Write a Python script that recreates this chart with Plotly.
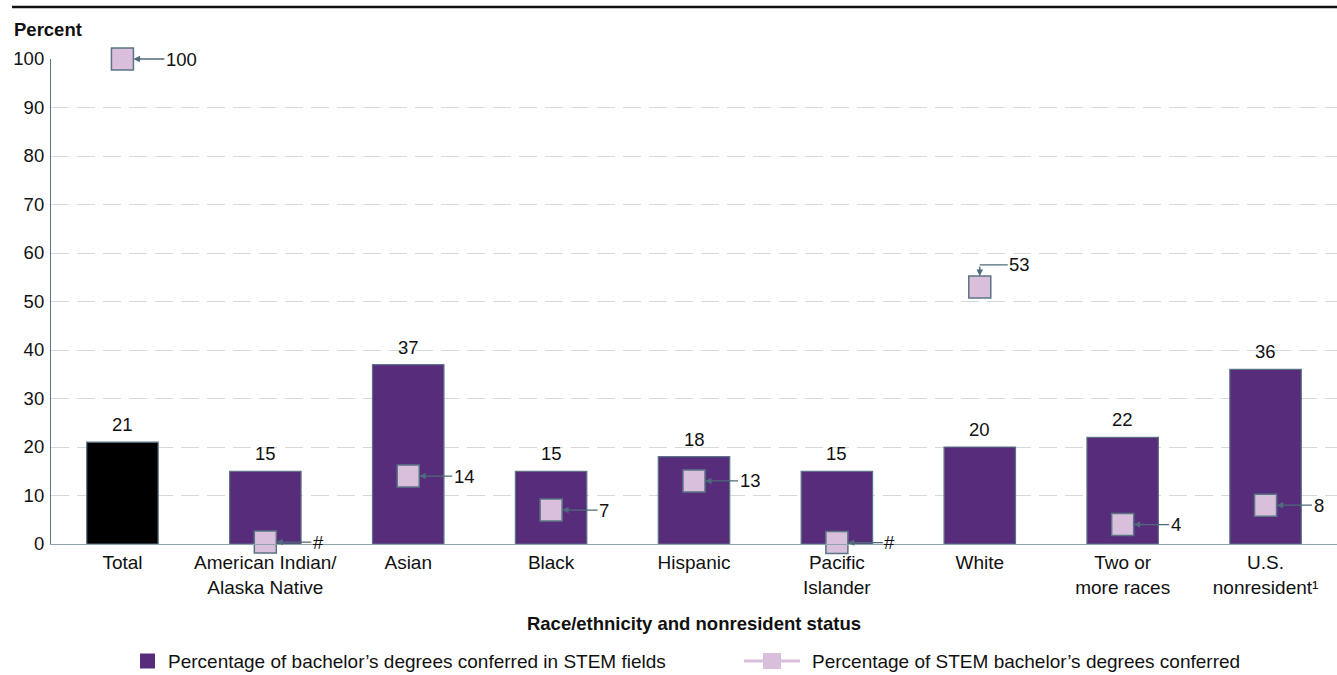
import plotly.graph_objects as go

# Categories along the x axis
categories = [
    "Total",
    "American Indian/<br>Alaska Native",
    "Asian",
    "Black",
    "Hispanic",
    "Pacific<br>Islander",
    "White",
    "Two or<br>more races",
    "U.S.<br>nonresident¹",
]

# Percentage of bachelor's degrees conferred in STEM fields (bars)
stem_pct = [21, 15, 37, 15, 18, 15, 20, 22, 36]

# Percentage of STEM bachelor's degrees conferred (squares)
stem_dist = [100, 0.4, 14, 7, 13, 0.3, 53, 4, 8]
stem_dist_labels = ["100", "#", "14", "7", "13", "#", "53", "4", "8"]

legend_names = [
    "Percentage of bachelor’s degrees conferred in STEM fields",
    "Percentage of STEM bachelor’s degrees conferred",
]

PURPLE = "#572c7b"
LILAC = "#d9bfdc"
SLATE = "#5b7486"
ARROW = "#4f6a7a"
GRID = "#d3d9dc"
INK = "#111111"
FONT = "Liberation Sans, Arial, sans-serif"
FS = 18.5

# figure geometry (pixels) used to place paper-referenced decorations
W, H = 1337, 675
ML, MR, MT, MB = 51, 0, 59, 131
PW, PH = W - ML - MR, H - MT - MB


def px_x(p):
    return (p - ML) / PW


def px_y(p):
    return (H - MB - p) / PH


x = list(range(len(categories)))
bar_colors = ["#000000"] + [PURPLE] * (len(categories) - 1)

fig = go.Figure()

fig.add_trace(go.Bar(
    x=x, y=stem_pct, width=0.5,
    marker=dict(color=bar_colors, line=dict(color=SLATE, width=1.2)),
    name=legend_names[0], hoverinfo="skip", showlegend=False,
))

fig.add_trace(go.Scatter(
    x=x, y=stem_dist, mode="markers",
    marker=dict(symbol="square", size=22, color=LILAC,
                line=dict(color=SLATE, width=1.5)),
    name=legend_names[1], cliponaxis=False, showlegend=False,
    hoverinfo="skip",
))

annotations = []

# value labels above bars
for xi, v in zip(x, stem_pct):
    annotations.append(dict(
        x=xi, y=v, text=str(v), showarrow=False, yanchor="bottom",
        yshift=5, font=dict(size=FS, color=INK, family=FONT),
    ))

# leader arrows pointing at the squares
for xi, v, lab in zip(x, stem_dist, stem_dist_labels):
    if lab == "53":
        # elbow: short horizontal leader then an arrow down into the square
        annotations.append(dict(
            x=xi, y=v, text="", showarrow=True, ax=0, ay=-22,
            arrowhead=2, arrowsize=1, arrowwidth=1.3, arrowcolor=ARROW,
            standoff=11,
        ))
        annotations.append(dict(
            x=xi, y=v, yshift=22, text=lab, showarrow=True, ax=40, ay=0,
            arrowhead=0, arrowwidth=1.3, arrowcolor=ARROW,
            font=dict(size=FS, color=INK, family=FONT),
        ))
    else:
        annotations.append(dict(
            x=xi, y=v, text=lab, showarrow=True, ax=50 + 3 * len(lab), ay=0,
            arrowhead=2, arrowsize=1, arrowwidth=1.3, arrowcolor=ARROW,
            standoff=11,
            font=dict(size=FS, color=INK, family=FONT),
        ))

annotations.append(dict(
    xref="paper", yref="paper", x=px_x(12), y=px_y(30), xanchor="left",
    yanchor="middle", text="<b>Percent</b>", showarrow=False,
    font=dict(size=FS, color=INK, family=FONT),
))

# legend text
LEG_Y = 661
annotations.append(dict(
    xref="paper", yref="paper", x=px_x(166), y=px_y(LEG_Y), xanchor="left",
    yanchor="middle", text=legend_names[0], showarrow=False,
    font=dict(size=19, color=INK, family=FONT),
))
annotations.append(dict(
    xref="paper", yref="paper", x=px_x(810), y=px_y(LEG_Y), xanchor="left",
    yanchor="middle", text=legend_names[1], showarrow=False,
    font=dict(size=19, color=INK, family=FONT),
))

shapes = [
    # rule across the top
    dict(type="line", xref="paper", yref="paper",
         x0=px_x(12), x1=1, y0=px_y(7), y1=px_y(7),
         line=dict(color=INK, width=2.5)),
    # legend swatch: bars
    dict(type="rect", xref="paper", yref="paper",
         x0=px_x(140), x1=px_x(155), y0=px_y(LEG_Y - 7.5), y1=px_y(LEG_Y + 7.5),
         fillcolor=PURPLE, line=dict(width=0)),
    # legend swatch: squares (line + square)
    dict(type="line", xref="paper", yref="paper",
         x0=px_x(744), x1=px_x(800), y0=px_y(LEG_Y), y1=px_y(LEG_Y),
         line=dict(color=LILAC, width=3)),
    dict(type="rect", xref="paper", yref="paper",
         x0=px_x(763), x1=px_x(781), y0=px_y(LEG_Y - 8), y1=px_y(LEG_Y + 8),
         fillcolor=LILAC, line=dict(width=0)),
]

fig.update_layout(
    width=W, height=H,
    margin=dict(l=ML, r=MR, t=MT, b=MB, autoexpand=False),
    plot_bgcolor="white", paper_bgcolor="white",
    font=dict(family=FONT, size=FS, color=INK),
    annotations=annotations,
    shapes=shapes,
    showlegend=False,
    xaxis=dict(
        tickmode="array", tickvals=x, ticktext=categories,
        range=[-0.5, len(categories) - 0.5],
        showgrid=False, showline=True, linecolor="#8fa3ae", linewidth=1.2,
        ticks="", tickfont=dict(size=19), automargin=False,
        ticklabelstandoff=1,
        title=dict(text="<b>Race/ethnicity and nonresident status</b>",
                   font=dict(size=FS), standoff=20),
        zeroline=False, fixedrange=True,
    ),
    yaxis=dict(
        range=[0, 100], tickvals=list(range(0, 101, 10)),
        showgrid=True, gridcolor=GRID, griddash="18px,8px", gridwidth=1,
        showline=True, linecolor=SLATE, linewidth=1.2,
        ticks="", tickfont=dict(size=FS), zeroline=False,
        ticklabelstandoff=2,
        automargin=False, fixedrange=True,
    ),
)

fig.write_html("out.html")
